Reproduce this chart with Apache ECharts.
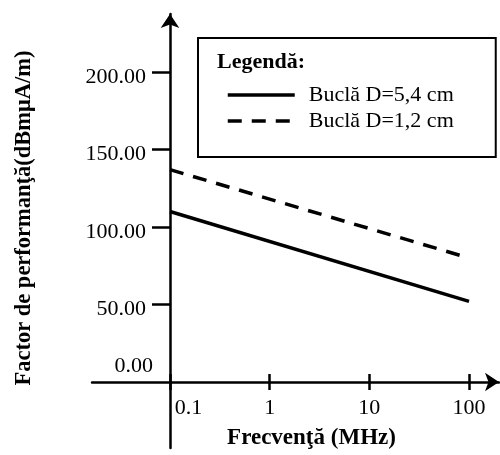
<!DOCTYPE html>
<html>
<head>
<meta charset="utf-8">
<script src="https://cdn.jsdelivr.net/npm/echarts@6/dist/echarts.min.js"></script>
<style>html,body{margin:0;padding:0;background:#fff}#c{width:500px;height:455px}</style>
</head>
<body>
<div id="c"></div>
<script>
// ---- data ----
const freqMHz = [0.1, 100];
const bucla54 = [110, 52];
const bucla12 = [137, 80];
const seriesNames = ['Buclă D=5,4 cm', 'Buclă D=1,2 cm'];
const xTicks = [0.1, 1, 10, 100];
const xTickLabels = ['0.1', '1', '10', '100'];
const yTicks = [50, 100, 150, 200];
const yZeroTick = [0];
const xName = 'Frecvenţă (MHz)';
const yName = 'Factor de performanţă(dBmμA/m)';
const legendTitle = 'Legendă:';

// ---- layout constants ----
const FONT = '"Liberation Serif", "Times New Roman", serif';
const gridLeft = 92, gridRight = 1, gridTop = 14, gridBottom = 7;
const axisX = 170, axisY = 382;        // where axes cross (pixels)
const pxPerDecade = 99.67, pxPerUnit = 1.55;
const W = 500, H = 455;
const xMin = Math.pow(10, -1 - (axisX - gridLeft) / pxPerDecade);
const xMax = Math.pow(10, -1 + (W - gridRight - axisX) / pxPerDecade);
const yMin = -((H - gridBottom) - axisY) / pxPerUnit;
const yMax = (axisY - gridTop) / pxPerUnit;
const xOffset = -((H - gridBottom) - axisY);
const yOffset = -(axisX - gridLeft);

const chart = echarts.init(document.getElementById('c'), null, {renderer: 'canvas'});
const lineW = 2.5;
const option = {
  backgroundColor: '#fff',
  animation: false,
  title: {
    text: legendTitle, left: 217, top: 51, padding: 0,
    textStyle: {fontFamily: FONT, fontSize: 22, fontWeight: 'bold', color: '#000'}
  },
  legend: {
    orient: 'vertical', left: 198, top: 38,
    padding: [46, 42, 25, 28], itemGap: 4,
    itemWidth: 67, itemHeight: 14,
    borderColor: '#000', borderWidth: 2,
    itemStyle: {opacity: 0},
    lineStyle: {width: 3.5, color: '#000'},
    textStyle: {fontFamily: FONT, fontSize: 22, color: '#000', padding: [0, 0, 0, 9]},
    data: seriesNames
  },
  grid: {left: gridLeft, right: gridRight, top: gridTop, bottom: gridBottom, containLabel: false},
  xAxis: [{
    type: 'log', min: xMin, max: xMax, offset: xOffset,
    name: xName, nameLocation: 'middle', nameGap: 45,
    nameTextStyle: {fontFamily: FONT, fontSize: 23, fontWeight: 'bold', color: '#000', padding: [0, 0, 0, 32]},
    axisLine: {show: true, lineStyle: {color: '#000', width: lineW}, symbol: ['none', 'arrow'], symbolSize: [14, 14]},
    axisTick: {show: true, length: 8, customValues: xTicks, lineStyle: {color: '#000', width: lineW}},
    axisLabel: {
      customValues: xTicks, margin: 15,
      fontFamily: FONT, fontSize: 22, color: '#000',
      formatter: function (v) {
        const i = xTicks.findIndex(t => Math.abs(t - v) < 1e-9 * Math.max(1, t));
        const s = i >= 0 ? xTickLabels[i] : '';
        return i === 0 ? '{a|' + s + '}' : s;
      },
      rich: {a: {fontFamily: FONT, fontSize: 22, color: '#000', padding: [0, 0, 0, 37]}}
    },
    splitLine: {show: false}, minorTick: {show: false}
  }, {
    type: 'log', min: xMin, max: xMax, offset: xOffset, position: 'bottom',
    axisLine: {show: false},
    axisTick: {show: true, inside: true, length: 8, customValues: xTicks, lineStyle: {color: '#000', width: lineW}},
    axisLabel: {show: false},
    splitLine: {show: false}
  }],
  yAxis: [{
    type: 'value', min: yMin, max: yMax, offset: yOffset,
    name: yName, nameLocation: 'middle', nameGap: 134, nameRotate: 90,
    nameTextStyle: {fontFamily: FONT, fontSize: 22.5, fontWeight: 'bold', color: '#000', padding: [0, 0, 0, 26]},
    axisLine: {show: true, lineStyle: {color: '#000', width: lineW}, symbol: ['none', 'arrow'], symbolSize: [14, 14]},
    axisTick: {show: true, length: 18, customValues: yTicks, lineStyle: {color: '#000', width: lineW}},
    axisLabel: {
      customValues: yTicks, margin: 24, fontFamily: FONT, fontSize: 22, color: '#000',
      verticalAlign: 'top', lineHeight: 10,
      formatter: v => Number(v).toFixed(2)
    },
    splitLine: {show: false}
  }, {
    type: 'value', min: yMin, max: yMax, offset: yOffset, position: 'left',
    axisLine: {show: false}, axisTick: {show: false},
    axisLabel: {
      customValues: yZeroTick, margin: 17, fontFamily: FONT, fontSize: 22, color: '#000',
      verticalAlign: 'bottom', lineHeight: 32,
      formatter: v => Number(v).toFixed(2)
    },
    splitLine: {show: false}
  }],
  series: [{
    name: seriesNames[0], type: 'line', symbol: 'none',
    data: freqMHz.map((f, i) => [f, bucla54[i]]),
    itemStyle: {color: '#000'},
    lineStyle: {color: '#000', width: 3.5, type: 'solid'}
  }, {
    name: seriesNames[1], type: 'line', symbol: 'none',
    data: freqMHz.map((f, i) => [f, bucla12[i]]),
    itemStyle: {color: '#000'},
    lineStyle: {color: '#000', width: 3.5, type: [14, 10]}
  }]
};
chart.setOption(option);
</script>
</body>
</html>
